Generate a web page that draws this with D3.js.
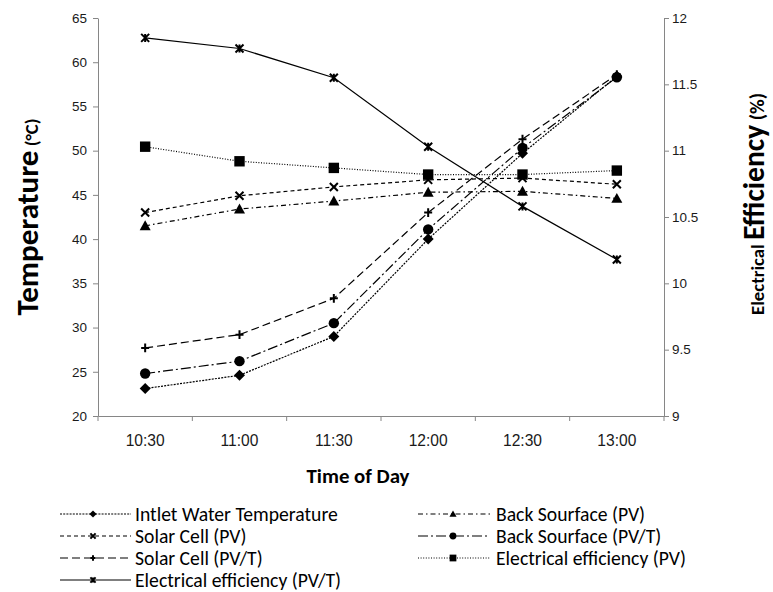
<!DOCTYPE html>
<html>
<head>
<meta charset="utf-8">
<script src="https://cdn.jsdelivr.net/npm/d3@7"></script>
<style>
  body { margin: 0; background: #fff; }
  svg { font-family: Carlito, Lato, "Noto Sans", sans-serif; }
  .axis path, .axis line { stroke: #868686; }
  .axis text { fill: #1a1a1a; }
</style>
</head>
<body>
<svg id="chart" width="773" height="592"></svg>
<script>
(function(){
    var times = ["10:30", "11:00", "11:30", "12:00", "12:30", "13:00"];

    var intletWater    = [23.1, 24.6, 29.0, 40.0, 49.7, 58.4],
        solarCellPV    = [43.0, 44.9, 45.9, 46.7, 46.9, 46.2],
        solarCellPVT   = [27.7, 29.2, 33.3, 43.0, 51.3, 58.6],
        backSurfacePV  = [41.5, 43.4, 44.3, 45.3, 45.4, 44.6],
        backSurfacePVT = [24.8, 26.2, 30.5, 41.1, 50.3, 58.3],
        effPV          = [11.03, 10.92, 10.87, 10.82, 10.82, 10.85],
        effPVT         = [11.85, 11.77, 11.55, 11.03, 10.58, 10.18];

    var tempTicks = [20, 25, 30, 35, 40, 45, 50, 55, 60, 65],
        effTicks  = [9, 9.5, 10, 10.5, 11, 11.5, 12];

    var left = 98, right = 664, top = 18, bottom = 416;

    var svg = d3.select("#chart");

    var x = d3.scaleBand().domain(times).range([left, right]);
    var yT = d3.scaleLinear().domain([20, 65]).range([bottom, top]);
    var yE = d3.scaleLinear().domain([9, 12]).range([bottom, top]);

    var series = [
        {name: "Intlet Water Temperature", values: intletWater, y: yT, dash: "2,1.2", marker: "diamond", col: 0, row: 0},
        {name: "Back Sourface (PV)", values: backSurfacePV, y: yT, dash: "5,3,1.5,3", marker: "triangle", col: 1, row: 0},
        {name: "Solar Cell (PV)", values: solarCellPV, y: yT, dash: "4,3", marker: "x", col: 0, row: 1},
        {name: "Back Sourface (PV/T)", values: backSurfacePVT, y: yT, dash: "10,3,2,3", marker: "circle", col: 1, row: 1},
        {name: "Solar Cell (PV/T)", values: solarCellPVT, y: yT, dash: "8,4", marker: "plus", col: 0, row: 2},
        {name: "Electrical efficiency (PV)", values: effPV, y: yE, dash: "1,1.6", marker: "square", col: 1, row: 2},
        {name: "Electrical efficiency (PV/T)", values: effPVT, y: yE, dash: null, marker: "star", col: 0, row: 3}
    ];

    // scale the font of a text so that its width comes close to the reference
    function fitWidth(sel, target){
        var node = sel.node(), w = node.getComputedTextLength();
        if(!w) return 1;
        var k = target / w;
        sel.selectAll("tspan").each(function(){
            var t = d3.select(this);
            t.style("font-size", parseFloat(t.style("font-size")) * k + "px");
        });
        if(sel.selectAll("tspan").empty())
            sel.style("font-size", parseFloat(sel.style("font-size")) * k + "px");
        return k;
    }

    // axes
    var yl = svg.append("g")
        .attr("class", "axis")
        .attr("transform", "translate(" + left + ",0)")
        .call(d3.axisLeft(yT).tickValues(tempTicks).tickSize(5).tickSizeOuter(0).tickPadding(6));
    yl.selectAll("text").style("font-size", "14px");
    var k = fitWidth(yl.select(".tick:last-of-type text"), 15);
    yl.selectAll("text").style("font-size", 14 * k + "px");

    var yr = svg.append("g")
        .attr("class", "axis")
        .attr("transform", "translate(" + right + ",0)")
        .call(d3.axisRight(yE).tickValues(effTicks).tickSize(5).tickSizeOuter(0).tickPadding(3)
            .tickFormat(function(d){ return d; }));
    yr.selectAll("text").style("font-size", 14 * k + "px");

    var xAxis = svg.append("g")
        .attr("class", "axis")
        .attr("transform", "translate(0," + bottom + ")")
        .call(d3.axisBottom(x).tickSize(0).tickSizeOuter(0).tickPadding(19));
    xAxis.selectAll("text").style("font-size", "15px");
    var kx = fitWidth(xAxis.select(".tick text"), 39);
    xAxis.selectAll("text").style("font-size", 15 * kx + "px");
    xAxis.selectAll(".band-tick")
        .data(times.map(function(t){ return x(t); }).concat([x.range()[1]]))
        .enter()
        .append("line")
        .attr("class", "band-tick")
        .attr("x1", function(d){ return d; })
        .attr("x2", function(d){ return d; })
        .attr("y1", 0)
        .attr("y2", 5);

    // axis titles
    var lt = svg.append("text")
        .attr("transform", "translate(38,217) rotate(-90)")
        .attr("text-anchor", "middle")
        .attr("font-weight", "bold")
        .attr("fill", "#000");
    var ltMain = lt.append("tspan").style("font-size", "25px").text("Temperature");
    lt.append("tspan").style("font-size", "15px").text(" (°C)");
    var kl = 165 / ltMain.node().getComputedTextLength();
    lt.selectAll("tspan").each(function(){
        var t = d3.select(this);
        t.style("font-size", parseFloat(t.style("font-size")) * kl + "px");
    });

    var rt = svg.append("text")
        .attr("transform", "translate(764,204) rotate(-90)")
        .attr("text-anchor", "middle")
        .attr("font-weight", "bold")
        .attr("fill", "#000");
    rt.append("tspan").style("font-size", "14px").text("Electrical ");
    rt.append("tspan").style("font-size", "22px").text("Efficiency");
    rt.append("tspan").style("font-size", "15px").text(" (%)");
    fitWidth(rt, 222);

    var xt = svg.append("text")
        .attr("x", 358)
        .attr("y", 483)
        .attr("text-anchor", "middle")
        .attr("font-weight", "bold")
        .style("font-size", "16px")
        .text("Time of Day");
    fitWidth(xt, 103);

    function drawMarker(g, type, s){
        var r;
        if(type == "diamond"){
            r = 5.5 * s;
            g.append("path").attr("d", "M0," + -r + "L" + r + ",0L0," + r + "L" + -r + ",0Z").attr("fill", "#000");
        } else if(type == "triangle"){
            r = 5.5 * s;
            g.append("path").attr("d", "M0," + -r + "L" + r + "," + r * 0.8 + "L" + -r + "," + r * 0.8 + "Z").attr("fill", "#000");
        } else if(type == "circle"){
            g.append("circle").attr("r", 5.2 * s).attr("fill", "#000");
        } else if(type == "square"){
            r = 5.2 * s;
            g.append("rect").attr("x", -r).attr("y", -r).attr("width", 2 * r).attr("height", 2 * r).attr("fill", "#000");
        } else {
            r = 4 * s;
            var p = [];
            if(type == "x" || type == "star") p.push("M" + -r + "," + -r + "L" + r + "," + r + "M" + -r + "," + r + "L" + r + "," + -r);
            if(type == "plus") p.push("M" + -r + ",0L" + r + ",0M0," + -r * 1.1 + "L0," + r * 1.1);
            if(type == "star") p.push("M0," + -r + "L0," + r);
            g.append("path").attr("d", p.join("")).attr("stroke", "#000").attr("stroke-width", 2).attr("fill", "none");
        }
    }

    var line = d3.line();

    series.forEach(function(s){
        var pts = s.values.map(function(v, i){
            return [x(times[i]) + x.bandwidth() / 2, s.y(v)];
        });
        svg.append("path")
            .attr("d", line(pts))
            .attr("fill", "none")
            .attr("stroke", "#000")
            .attr("stroke-width", 1.2)
            .attr("stroke-dasharray", s.dash);
        pts.forEach(function(p){
            var g = svg.append("g").attr("transform", "translate(" + p[0] + "," + p[1] + ")");
            drawMarker(g, s.marker, 1);
        });
    });

    // legend
    var colX = [[60, 131, 93, 135], [418, 490, 453, 496]];
    var legendText = [];
    series.forEach(function(s){
        var c = colX[s.col], yy = 514 + s.row * 22;
        svg.append("line")
            .attr("x1", c[0]).attr("x2", c[1])
            .attr("y1", yy).attr("y2", yy)
            .attr("stroke", "#000")
            .attr("stroke-width", 1.2)
            .attr("stroke-dasharray", s.dash);
        var g = svg.append("g").attr("transform", "translate(" + c[2] + "," + yy + ")");
        drawMarker(g, s.marker, 0.65);
        legendText.push(svg.append("text")
            .attr("x", c[3])
            .attr("y", yy)
            .attr("dy", "0.35em")
            .style("font-size", "17px")
            .text(s.name));
    });
    var kg = fitWidth(legendText[0], 203);
    legendText.forEach(function(t){ t.style("font-size", 17 * kg + "px"); });
})();
</script>
</body>
</html>
